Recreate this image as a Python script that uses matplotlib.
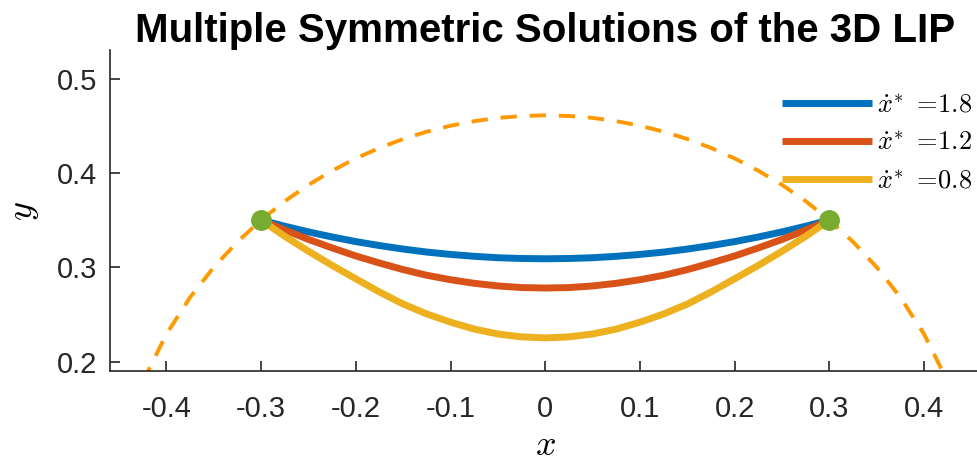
import matplotlib
matplotlib.use("Agg")
import matplotlib.pyplot as plt

plt.rcParams['font.family'] = ['Liberation Sans', 'DejaVu Sans']
plt.rcParams['mathtext.fontset'] = 'cm'

# x positions (shared by the three solution curves)
x_sol = [-0.3, -0.275, -0.25, -0.225, -0.2, -0.175, -0.15, -0.125, -0.1, -0.075, -0.05, -0.025,
         0.0, 0.025, 0.05, 0.075, 0.1, 0.125, 0.15, 0.175, 0.2, 0.225, 0.25, 0.275, 0.3]

# solution curves (half, mirrored below)
half_18 = [0.3500, 0.3435, 0.3375, 0.3321, 0.3272, 0.3230, 0.3193, 0.3161, 0.3136, 0.3116, 0.3101, 0.3093, 0.3090]
half_12 = [0.3500, 0.3395, 0.3295, 0.3205, 0.3120, 0.3045, 0.2975, 0.2915, 0.2868, 0.2830, 0.2802, 0.2785, 0.2780]
half_08 = [0.3500, 0.3328, 0.3170, 0.3020, 0.2878, 0.2738, 0.2610, 0.2505, 0.2418, 0.2345, 0.2293, 0.2262, 0.2252]
y_18 = half_18 + half_18[-2::-1]
y_12 = half_12 + half_12[-2::-1]
y_08 = half_08 + half_08[-2::-1]

labels = [r'$\dot{x}^{*}\ =\!1.8$', r'$\dot{x}^{*}\ =\!1.2$', r'$\dot{x}^{*}\ =\!0.8$']
colors = ['#0072BD', '#D95319', '#EDB120']

# dashed reachable arc
x_arc = [-0.425, -0.4, -0.375, -0.35, -0.325, -0.3, -0.275, -0.25, -0.225, -0.2, -0.175, -0.15,
         -0.125, -0.1, -0.075, -0.05, -0.025, 0.0, 0.025, 0.05, 0.075, 0.1, 0.125, 0.15, 0.175,
         0.2, 0.225, 0.25, 0.275, 0.3, 0.325, 0.35, 0.375, 0.4, 0.425]
arc_half = [0.1785, 0.2291, 0.2681, 0.3000, 0.3269, 0.3500, 0.3700, 0.3873, 0.4023, 0.4153,
            0.4265, 0.4359, 0.4437, 0.4500, 0.4548, 0.4583, 0.4603, 0.4610]
y_arc = arc_half + arc_half[-2::-1]

# end points
x_end = [-0.3, 0.3]
y_end = [0.35, 0.35]

fig = plt.figure(figsize=(9.78, 4.65), dpi=100)
ax = fig.add_axes([0.112, 0.202, 0.891, 0.690])

ax.plot(x_arc, y_arc, color='#FF9900', lw=2.8, dashes=(4.2, 3.3))
for yy, c, lab in zip([y_18, y_12, y_08], colors, labels):
    ax.plot(x_sol, yy, color=c, lw=5, label=lab, solid_capstyle='butt', solid_joinstyle='round')
ax.plot(x_end, y_end, 'o', color='#77AC30', ms=14, zorder=5)

ax.set_xlim(-0.46, 0.46)
ax.set_ylim(0.19, 0.53)
ax.set_xticks([-0.4, -0.3, -0.2, -0.1, 0, 0.1, 0.2, 0.3, 0.4])
ax.set_xticklabels(['-0.4', '-0.3', '-0.2', '-0.1', '0', '0.1', '0.2', '0.3', '0.4'])
ax.set_yticks([0.2, 0.3, 0.4, 0.5])
ax.set_yticklabels(['0.2', '0.3', '0.4', '0.5'])
ax.tick_params(direction='in', length=7, width=1.2, labelsize=21, colors='#262626')
ax.tick_params(axis='x', pad=17)
ax.tick_params(axis='y', pad=9)
for s in ['top', 'right']:
    ax.spines[s].set_visible(False)
for s in ['left', 'bottom']:
    ax.spines[s].set_color('#262626')
    ax.spines[s].set_linewidth(1.2)

ax.set_xlabel(r'$x$', fontsize=26, labelpad=4)
ax.set_ylabel(r'$y$', fontsize=26, labelpad=11)
ax.set_title('Multiple Symmetric Solutions of the 3D LIP', fontsize=29, fontweight='bold', pad=6)

ax.legend(loc='upper right', bbox_to_anchor=(0.99, 0.865), frameon=False, fontsize=19,
          handlelength=3.4, handletextpad=0.2, labelspacing=0.52, borderaxespad=0.0,
          borderpad=0.0)

fig.savefig('out.png', dpi=100)
